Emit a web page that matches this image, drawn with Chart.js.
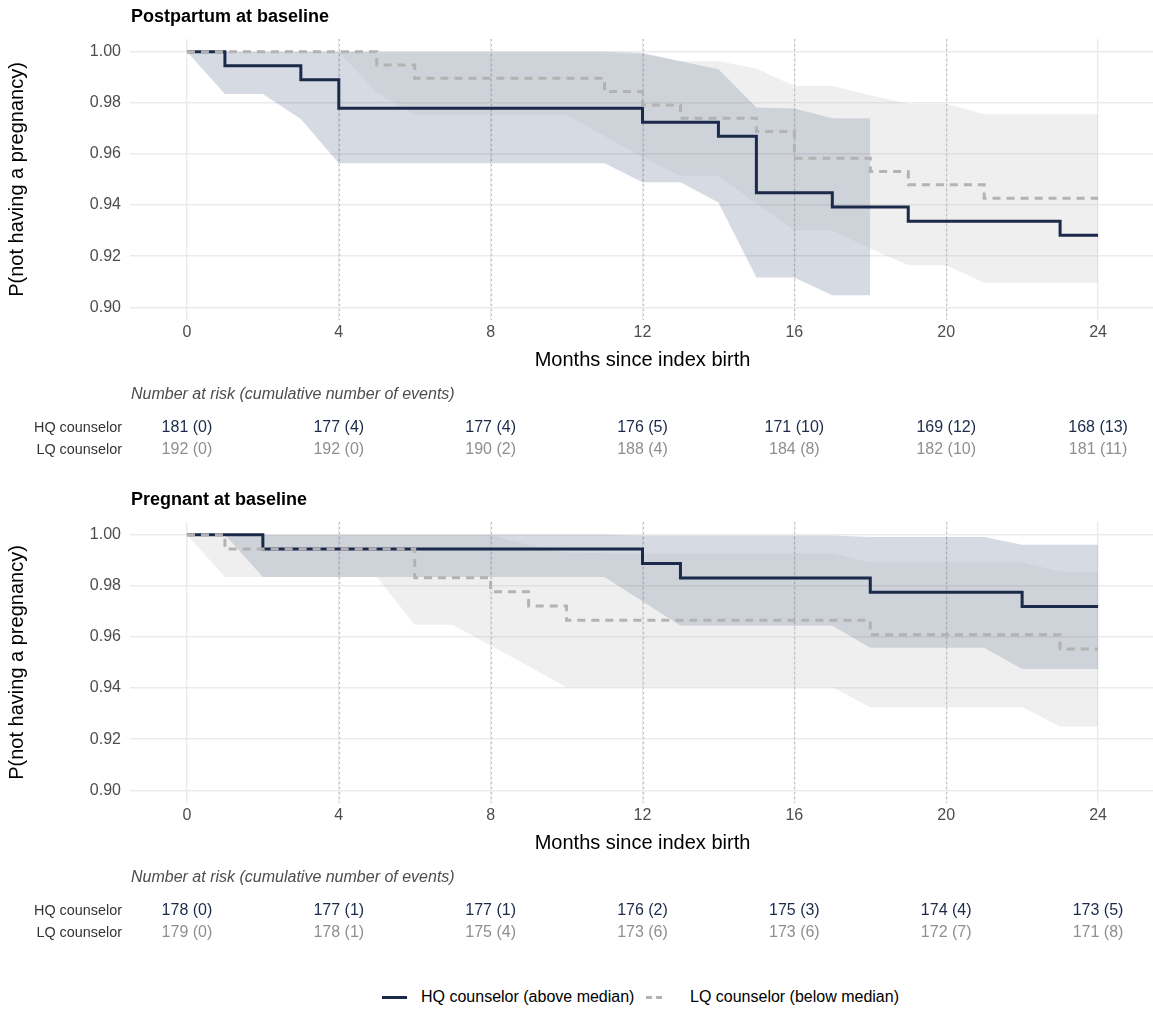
<!DOCTYPE html>
<html>
<head>
<meta charset="utf-8">
<script src="https://cdn.jsdelivr.net/npm/chart.js@4.4.1/dist/chart.umd.min.js"></script>
<style>
  body { margin: 0; background: #fff; width: 1153px; height: 1012px; overflow: hidden; position: relative;
         font-family: "Liberation Sans", Arial, sans-serif; }
  .panel { position: absolute; left: 0; width: 1160px; height: 470px; }
  .key { position: absolute; top: 996px; width: 25px; height: 3px; }
  .keytext { position: absolute; top: 987px; line-height: 20px; font-size: 16px; color: #000; white-space: nowrap; }
</style>
</head>
<body>
<div class="panel" style="top:0px"><canvas id="ppChart" width="1160" height="470"></canvas></div>
<div class="panel" style="top:483px"><canvas id="pgChart" width="1160" height="470"></canvas></div>

<div class="key" style="left:382px; background:#1b2a4a;"></div>
<div class="keytext" style="left:421px;">HQ counselor (above median)</div>
<div class="key" style="left:646px; width:16px; background:repeating-linear-gradient(90deg,#b3b3b3 0 6px,transparent 6px 10px);"></div>
<div class="keytext" style="left:690px;">LQ counselor (below median)</div>

<script>
// Cores e eixos
const navy = '#1b2a4a';
const lightGray = '#b3b3b3';
const monthTicks = [0, 4, 8, 12, 16, 20, 24];
const vlineMonths = [4, 8, 12, 16, 20];
const yTicks = [0.90, 0.92, 0.94, 0.96, 0.98, 1.00];
const bandMonths = [0, 1, 2, 3, 4, 5, 6, 7, 8, 9, 10, 11, 12, 13, 14, 15, 16, 17, 18, 19, 20, 21, 22, 23, 24];

// Postpartum at baseline - curvas
const ppHqTime = [0, 1, 3, 4, 12, 14, 15, 17, 19, 23, 24];
const ppHqSurv = [1, 0.9945, 0.9890, 0.9779, 0.9724, 0.9669, 0.9448, 0.9392, 0.9337, 0.9282, 0.9282];
const ppLqTime = [0, 5, 6, 11, 12, 13, 15, 16, 18, 19, 21, 24];
const ppLqSurv = [1, 0.9948, 0.9896, 0.9844, 0.9792, 0.9740, 0.9688, 0.9583, 0.9531, 0.9479, 0.9427, 0.9427];
// intervalos de confiança (por mês)
const ppHqUpper = [1, 1, 1, 1, 1, 1, 1, 1, 1, 1, 1, 1, 0.9995, 0.9963, 0.9932, 0.9782, 0.9778, 0.9740, 0.9740];
const ppHqLower = [1, 0.9835, 0.9835, 0.9737, 0.9564, 0.9564, 0.9564, 0.9564, 0.9564, 0.9564, 0.9564, 0.9564, 0.9489, 0.9489, 0.9410, 0.9116, 0.9116, 0.9047, 0.9047];
const ppLqUpper = [1, 1, 1, 1, 1, 0.9993, 0.9993, 0.9993, 0.9993, 0.9993, 0.9993, 0.9993, 0.9990, 0.9963, 0.9963, 0.9935, 0.9866, 0.9866, 0.9830, 0.9797, 0.9797, 0.9755, 0.9755, 0.9755, 0.9755];
const ppLqLower = [1, 1, 1, 1, 1, 0.9841, 0.9753, 0.9753, 0.9753, 0.9753, 0.9753, 0.9670, 0.9587, 0.9515, 0.9515, 0.9406, 0.9300, 0.9300, 0.9230, 0.9164, 0.9164, 0.9096, 0.9096, 0.9096, 0.9096];
// tabela de risco
const ppHqAtRisk = [181, 177, 177, 176, 171, 169, 168];
const ppHqEvents = [0, 4, 4, 5, 10, 12, 13];
const ppLqAtRisk = [192, 192, 190, 188, 184, 182, 181];
const ppLqEvents = [0, 0, 2, 4, 8, 10, 11];

// Pregnant at baseline - curvas
const pgHqTime = [0, 2, 12, 13, 18, 22, 24];
const pgHqSurv = [1, 0.9944, 0.9888, 0.9831, 0.9775, 0.9719, 0.9719];
const pgLqTime = [0, 1, 6, 8, 9, 10, 18, 23, 24];
const pgLqSurv = [1, 0.9944, 0.9832, 0.9777, 0.9721, 0.9665, 0.9609, 0.9553, 0.9553];
const pgHqUpper = [1, 1, 1, 1, 1, 1, 1, 1, 1, 1, 1, 1, 0.9997, 0.9997, 0.9997, 0.9997, 0.9997, 0.9997, 0.9991, 0.9991, 0.9991, 0.9991, 0.9961, 0.9961, 0.9961];
const pgHqLower = [1, 1, 0.9835, 0.9835, 0.9835, 0.9835, 0.9835, 0.9835, 0.9835, 0.9835, 0.9835, 0.9835, 0.9740, 0.9644, 0.9644, 0.9644, 0.9644, 0.9644, 0.9558, 0.9558, 0.9558, 0.9558, 0.9475, 0.9475, 0.9475];
const pgLqUpper = [1, 1, 1, 1, 1, 1, 1, 1, 1, 0.9960, 0.9930, 0.9928, 0.9928, 0.9928, 0.9928, 0.9928, 0.9928, 0.9928, 0.9892, 0.9892, 0.9892, 0.9892, 0.9892, 0.9856, 0.9856];
const pgLqLower = [1, 0.9835, 0.9835, 0.9835, 0.9835, 0.9835, 0.9648, 0.9648, 0.9567, 0.9485, 0.9403, 0.9403, 0.9403, 0.9403, 0.9403, 0.9403, 0.9403, 0.9403, 0.9325, 0.9325, 0.9325, 0.9325, 0.9325, 0.9249, 0.9249];
const pgHqAtRisk = [178, 177, 177, 176, 175, 174, 173];
const pgHqEvents = [0, 1, 1, 2, 3, 4, 5];
const pgLqAtRisk = [179, 178, 175, 173, 173, 172, 171];
const pgLqEvents = [0, 1, 4, 6, 6, 7, 8];

Chart.defaults.font.family = '"Liberation Sans", Arial, sans-serif';
Chart.defaults.devicePixelRatio = 1;

function toPoints(xs, ys) {
  return ys.map((y, i) => ({ x: xs[i], y: y }));
}

// Plugin: linhas pontilhadas verticais, título do painel e tabela de risco
const panelExtras = {
  id: 'panelExtras',
  beforeDatasetsDraw(chart) {
    const ctx = chart.ctx;
    const area = chart.chartArea;
    const x = chart.scales.x;
    ctx.save();
    ctx.strokeStyle = '#c2c2c2';
    ctx.lineWidth = 1.2;
    ctx.setLineDash([2, 3]);
    vlineMonths.forEach(m => {
      const px = Math.round(x.getPixelForValue(m)) + 0.5;
      ctx.beginPath();
      ctx.moveTo(px, area.top);
      ctx.lineTo(px, area.bottom);
      ctx.stroke();
    });
    ctx.restore();
  },
  afterDraw(chart, args, opts) {
    const ctx = chart.ctx;
    const area = chart.chartArea;
    const x = chart.scales.x;
    ctx.save();
    ctx.textBaseline = 'middle';

    ctx.fillStyle = '#000';
    ctx.font = 'bold 18px "Liberation Sans", Arial, sans-serif';
    ctx.textAlign = 'left';
    ctx.fillText(opts.title, area.left + 1, area.top - 22);

    ctx.fillStyle = '#4d4d4d';
    ctx.font = 'italic 16px "Liberation Sans", Arial, sans-serif';
    ctx.fillText('Number at risk (cumulative number of events)', area.left + 1, area.bottom + 75);

    opts.rows.forEach((row, r) => {
      const y = area.bottom + 108 + r * 22;
      ctx.textAlign = 'right';
      ctx.fillStyle = '#333333';
      ctx.font = '14.4px "Liberation Sans", Arial, sans-serif';
      ctx.fillText(row.label, area.left - 8, y);
      ctx.textAlign = 'center';
      ctx.fillStyle = row.color;
      ctx.font = '16px "Liberation Sans", Arial, sans-serif';
      monthTicks.forEach((m, i) => {
        ctx.fillText(row.atRisk[i] + ' (' + row.events[i] + ')', x.getPixelForValue(m), y);
      });
    });
    ctx.restore();
  }
};

function makePanel(id, title, hq, lq, rows) {
  new Chart(document.getElementById(id), {
    type: 'line',
    data: {
      datasets: [
        { data: toPoints(lq.time, lq.surv), borderColor: lightGray, borderWidth: 3, borderDash: [8, 6],
          stepped: 'before', pointRadius: 0, fill: false },
        { data: toPoints(hq.time, hq.surv), borderColor: navy, borderWidth: 3,
          stepped: 'before', pointRadius: 0, fill: false },
        { data: toPoints(bandMonths, lq.upper), borderWidth: 0, borderColor: 'rgba(0,0,0,0)', pointRadius: 0, fill: false },
        { data: toPoints(bandMonths, lq.lower), borderWidth: 0, borderColor: 'rgba(0,0,0,0)', pointRadius: 0,
          fill: '-1', backgroundColor: 'rgba(179,179,179,0.21)' },
        { data: toPoints(bandMonths, hq.upper), borderWidth: 0, borderColor: 'rgba(0,0,0,0)', pointRadius: 0, fill: false },
        { data: toPoints(bandMonths, hq.lower), borderWidth: 0, borderColor: 'rgba(0,0,0,0)', pointRadius: 0,
          fill: '-1', backgroundColor: 'rgba(30,50,100,0.18)' }
      ]
    },
    options: {
      responsive: false,
      animation: false,
      layout: { padding: { left: 0, right: 5, top: 39, bottom: 94 } },
      plugins: {
        legend: { display: false },
        tooltip: { enabled: false },
        panelExtras: { title: title, rows: rows }
      },
      scales: {
        x: {
          type: 'linear', min: -1.5, max: 25.5,
          afterBuildTicks: s => { s.ticks = monthTicks.map(v => ({ value: v })); },
          afterFit: s => { s.height = 56; },
          grid: { color: '#ebebeb', lineWidth: 1.4, drawTicks: false },
          border: { display: false },
          ticks: { color: '#4d4d4d', font: { size: 16 }, padding: 3, callback: v => String(v) },
          title: { display: true, text: 'Months since index birth', color: '#000', font: { size: 20 },
                   padding: { top: 0, bottom: 4 } }
        },
        y: {
          min: 0.895, max: 1.005,
          afterBuildTicks: s => { s.ticks = yTicks.map(v => ({ value: v })); },
          afterFit: s => { s.width = 130; },
          grid: { color: '#ebebeb', lineWidth: 1.4, drawTicks: false },
          border: { display: false },
          ticks: { color: '#4d4d4d', font: { size: 16 }, padding: 9, callback: v => v.toFixed(2) },
          title: { display: true, text: 'P(not having a pregnancy)', color: '#000', font: { size: 20 },
                   padding: { top: 5.5, bottom: 0 } }
        }
      }
    },
    plugins: [panelExtras]
  });
}

makePanel('ppChart', 'Postpartum at baseline',
  { time: ppHqTime, surv: ppHqSurv, upper: ppHqUpper, lower: ppHqLower },
  { time: ppLqTime, surv: ppLqSurv, upper: ppLqUpper, lower: ppLqLower },
  [ { label: 'HQ counselor', color: navy, atRisk: ppHqAtRisk, events: ppHqEvents },
    { label: 'LQ counselor', color: '#8f8f8f', atRisk: ppLqAtRisk, events: ppLqEvents } ]);

makePanel('pgChart', 'Pregnant at baseline',
  { time: pgHqTime, surv: pgHqSurv, upper: pgHqUpper, lower: pgHqLower },
  { time: pgLqTime, surv: pgLqSurv, upper: pgLqUpper, lower: pgLqLower },
  [ { label: 'HQ counselor', color: navy, atRisk: pgHqAtRisk, events: pgHqEvents },
    { label: 'LQ counselor', color: '#8f8f8f', atRisk: pgLqAtRisk, events: pgLqEvents } ]);
</script>
</body>
</html>
